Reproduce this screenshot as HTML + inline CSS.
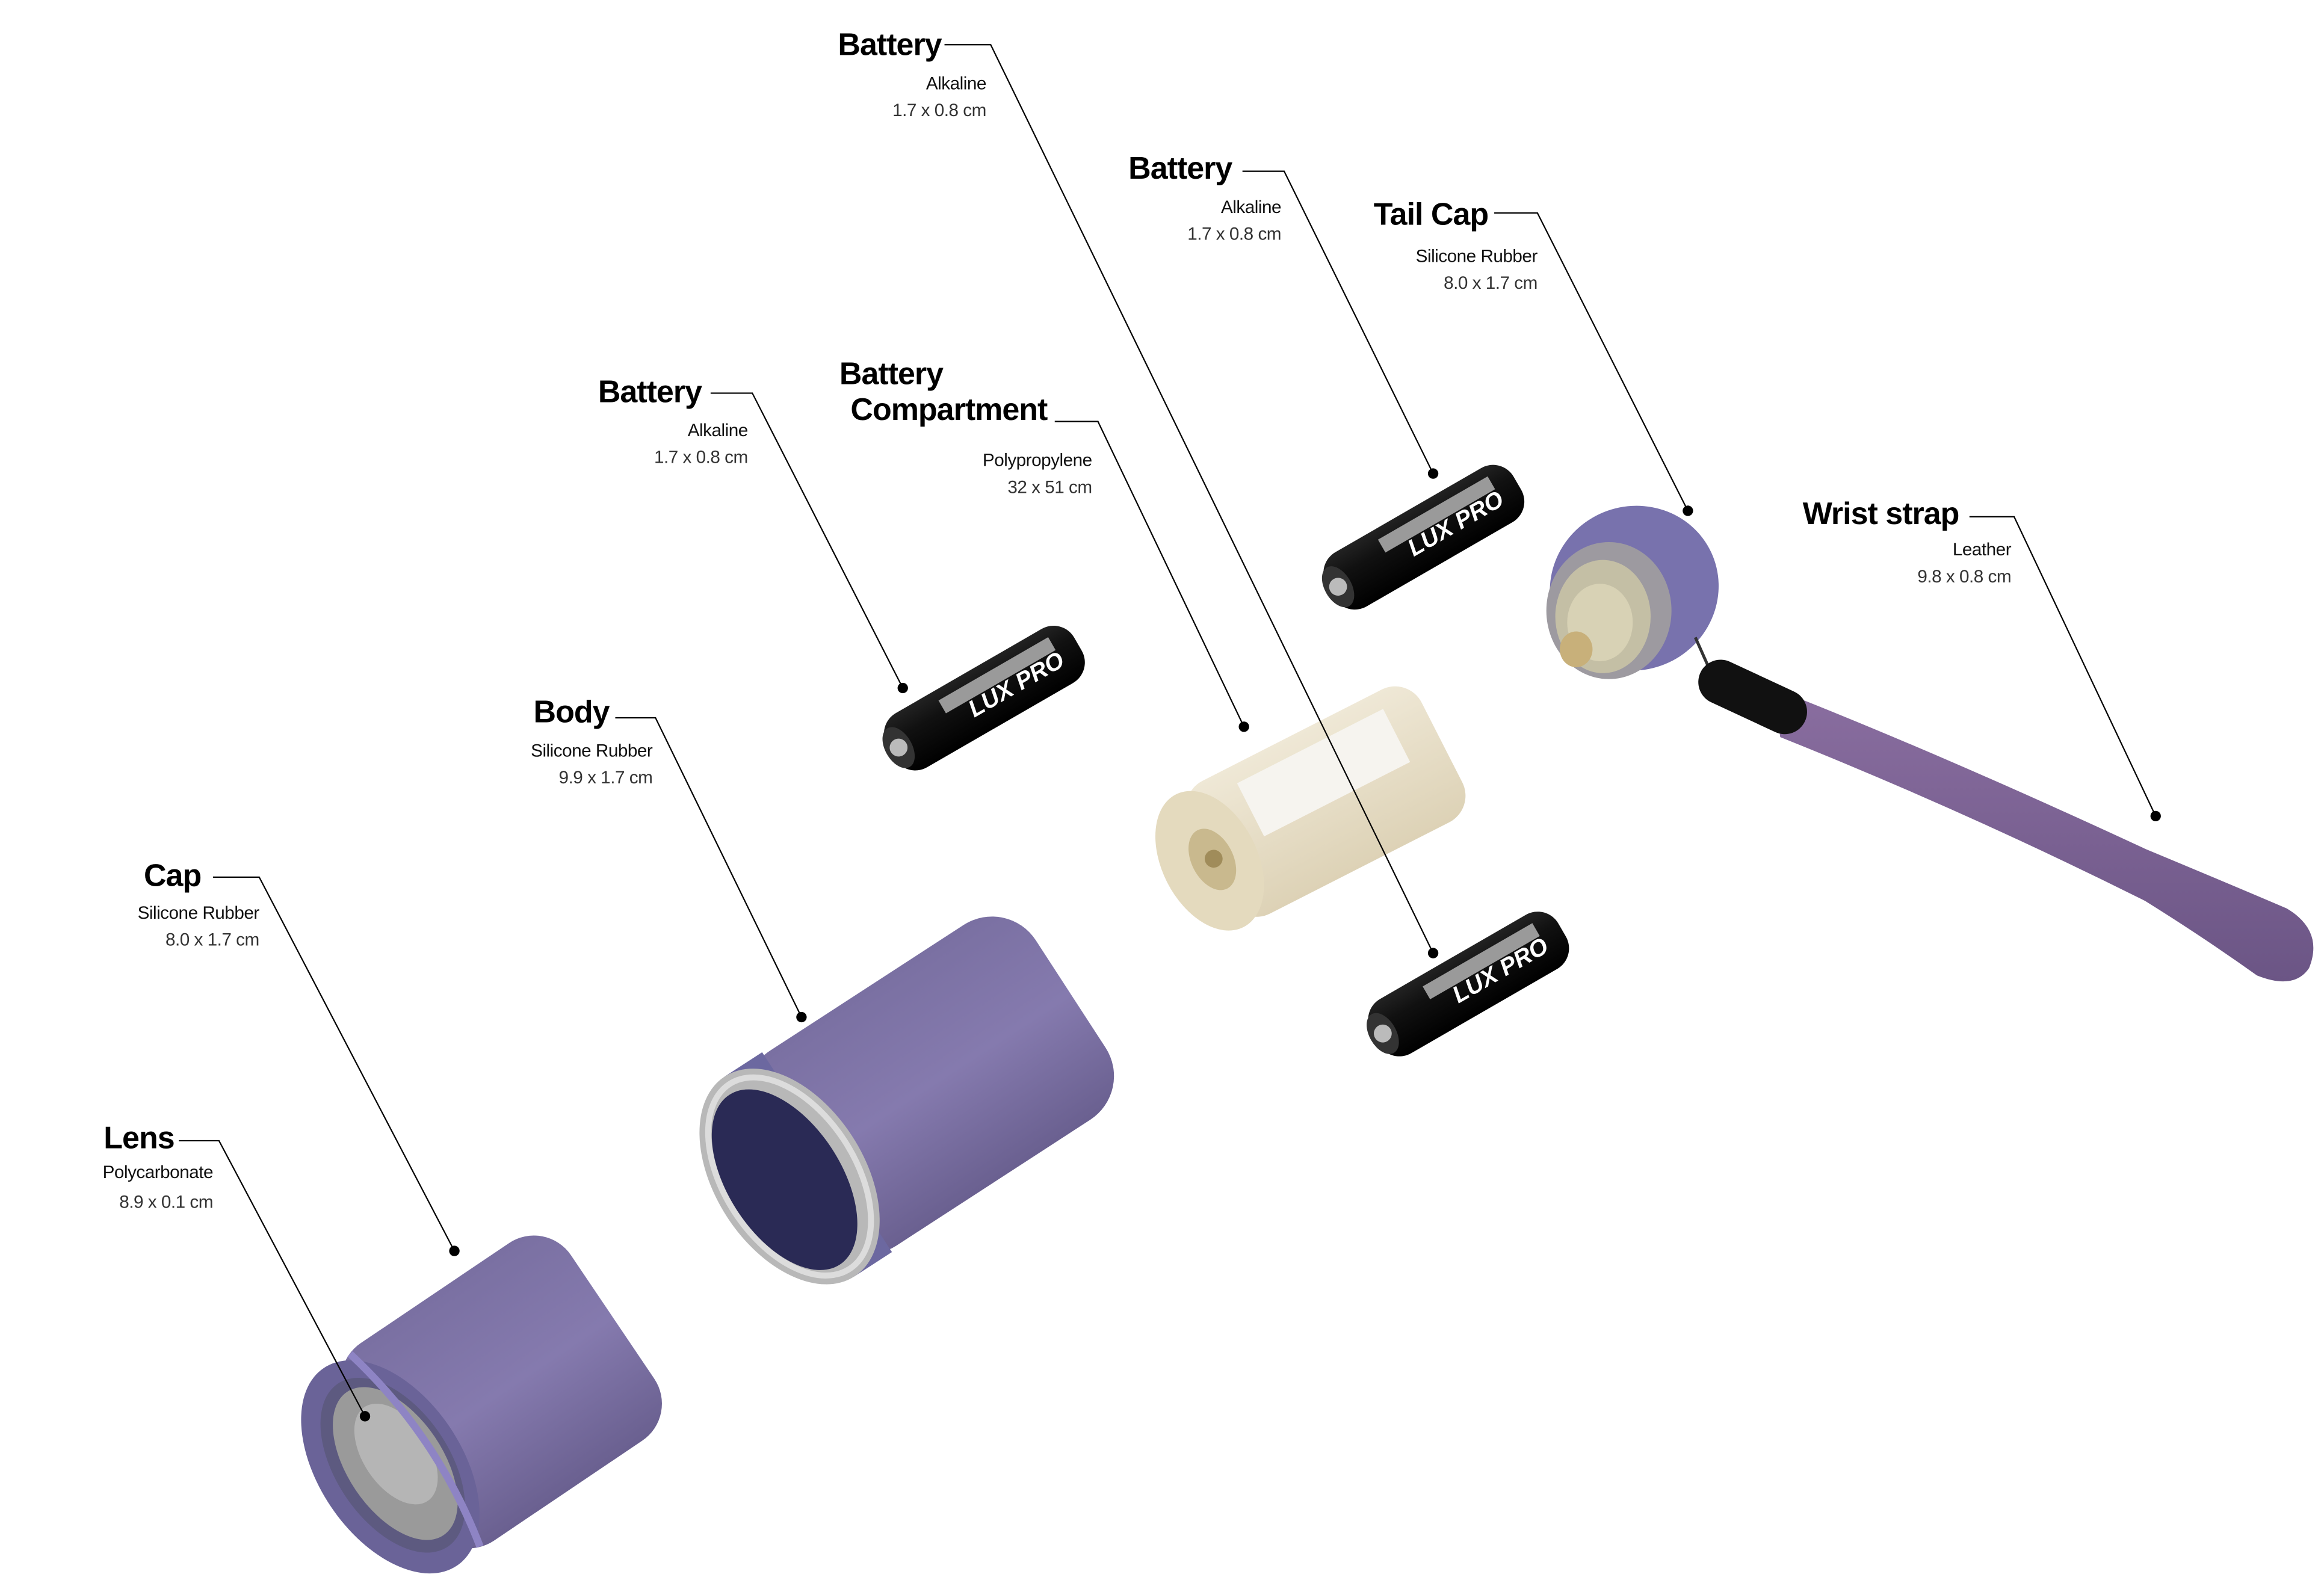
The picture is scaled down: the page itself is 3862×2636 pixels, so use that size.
<!DOCTYPE html>
<html><head><meta charset="utf-8"><style>
html,body{margin:0;padding:0;background:#fff;}
svg{display:block;}
.t{font-family:"Liberation Sans",sans-serif;font-weight:bold;font-size:21px;letter-spacing:-0.4px;fill:#000;text-anchor:end;}
.s{font-family:"Liberation Sans",sans-serif;font-size:12px;letter-spacing:-0.2px;fill:#111;text-anchor:end;}
.d{font-family:"Liberation Sans",sans-serif;font-size:12px;letter-spacing:-0.2px;fill:#333;text-anchor:end;}
.l{fill:none;stroke:#000;stroke-width:0.9;}
</style></head><body>
<svg width="3862" height="2636" viewBox="0 0 1560 1065" preserveAspectRatio="none" xmlns="http://www.w3.org/2000/svg">
<defs>
<linearGradient id="pur" x1="0" y1="0" x2="0" y2="1"><stop offset="0" stop-color="#7a70a2"/><stop offset="0.5" stop-color="#857aae"/><stop offset="1" stop-color="#6a6090"/></linearGradient>
<linearGradient id="bat" x1="0" y1="0" x2="0" y2="1"><stop offset="0" stop-color="#222"/><stop offset="0.35" stop-color="#111"/><stop offset="1" stop-color="#000"/></linearGradient>
<linearGradient id="beige" x1="0" y1="0" x2="0" y2="1"><stop offset="0" stop-color="#efe8d6"/><stop offset="1" stop-color="#ddd2b6"/></linearGradient>
<linearGradient id="strap" x1="0" y1="0" x2="0" y2="1"><stop offset="0" stop-color="#8a6ea0"/><stop offset="1" stop-color="#6b5585"/></linearGradient>
</defs>

<!-- Cap -->
<g transform="translate(262,985) rotate(-34)">
<rect x="0" y="-80" width="180" height="160" rx="30" fill="url(#pur)"/>
<ellipse cx="0" cy="0" rx="48" ry="80" fill="#6a6398"/>
<ellipse cx="2" cy="0" rx="38" ry="66" fill="#5d5a80"/>
<ellipse cx="4" cy="0" rx="32" ry="58" fill="#9a9a9a"/>
<ellipse cx="8" cy="-5" rx="22" ry="38" fill="#b5b5b5"/>
<path d="M20,-78 Q38,0 20,78" stroke="#8e84c4" stroke-width="5" fill="none"/>
</g>

<!-- Body -->
<g transform="translate(530,790) rotate(-33)">
<rect x="0" y="-78" width="225" height="156" rx="35" fill="url(#pur)"/>
<rect x="0" y="-80" width="30" height="160" fill="#6c68a0"/>
<ellipse cx="0" cy="0" rx="50" ry="80" fill="#b8b8b8"/>
<ellipse cx="-4" cy="0" rx="38" ry="68" fill="#2a2a55"/>
<ellipse cx="0" cy="0" rx="44" ry="74" fill="none" stroke="#dcdcdc" stroke-width="4"/>
</g>

<!-- Batteries -->
<g transform="translate(598,505) rotate(-30)">
<rect x="0" y="-21" width="145" height="42" rx="16" fill="url(#bat)"/>
<rect x="45" y="-14" width="85" height="10" fill="#9a9a9a"/>
<text x="60" y="8" font-family="Liberation Sans,sans-serif" font-weight="bold" font-style="italic" font-size="16" fill="#fff">LUX PRO</text>
<ellipse cx="6" cy="0" rx="9" ry="15" fill="#333"/><circle cx="6" cy="0" r="6" fill="#bbb"/>
</g>
<g transform="translate(893,397) rotate(-30)">
<rect x="0" y="-21" width="145" height="42" rx="16" fill="url(#bat)"/>
<rect x="45" y="-14" width="85" height="10" fill="#9a9a9a"/>
<text x="60" y="8" font-family="Liberation Sans,sans-serif" font-weight="bold" font-style="italic" font-size="16" fill="#fff">LUX PRO</text>
<ellipse cx="6" cy="0" rx="9" ry="15" fill="#333"/><circle cx="6" cy="0" r="6" fill="#bbb"/>
</g>
<g transform="translate(923,697) rotate(-30)">
<rect x="0" y="-21" width="145" height="42" rx="16" fill="url(#bat)"/>
<rect x="45" y="-14" width="85" height="10" fill="#9a9a9a"/>
<text x="60" y="8" font-family="Liberation Sans,sans-serif" font-weight="bold" font-style="italic" font-size="16" fill="#fff">LUX PRO</text>
<ellipse cx="6" cy="0" rx="9" ry="15" fill="#333"/><circle cx="6" cy="0" r="6" fill="#bbb"/>
</g>

<!-- Battery compartment -->
<g transform="translate(812,578) rotate(-27)">
<rect x="0" y="-50" width="175" height="100" rx="20" fill="url(#beige)"/>
<rect x="40" y="-38" width="110" height="40" fill="#f6f4ef"/>
<ellipse cx="0" cy="0" rx="32" ry="50" fill="#e4dabe"/>
<ellipse cx="2" cy="0" rx="14" ry="22" fill="#c9b98e"/>
<circle cx="3" cy="0" r="6" fill="#a08c5a"/>
</g>

<!-- Tail cap -->
<g>
<ellipse cx="1097" cy="395" rx="57" ry="55" fill="#7872ad" transform="rotate(-25 1097 395)"/>
<ellipse cx="1080" cy="410" rx="42" ry="46" fill="#9d9aa0"/>
<ellipse cx="1076" cy="414" rx="32" ry="38" fill="#c4bfa5"/>
<ellipse cx="1074" cy="418" rx="22" ry="26" fill="#d8d2b5"/>
<ellipse cx="1058" cy="436" rx="11" ry="12" fill="#c8b07a"/>
</g>

<!-- Wrist strap -->
<path d="M1138,428 L1150,455" stroke="#333" stroke-width="2"/>
<path d="M1190,462 Q1300,505 1440,570 Q1500,595 1535,610 Q1560,625 1550,650 Q1540,665 1515,655 Q1480,630 1440,605 Q1320,545 1195,495 Z" fill="url(#strap)"/>
<path d="M1155,458 L1198,478" stroke="#111" stroke-width="30" stroke-linecap="round"/>

<!-- Leader lines -->
<g class="l">
<polyline points="634,30 665,30 962,640"/>
<polyline points="834,115 862,115 962,318"/>
<polyline points="1003,143 1032,143 1133,343"/>
<polyline points="1322,347 1352,347 1447,548"/>
<polyline points="477,264 505,264 606,462"/>
<polyline points="708,283 737,283 835,488"/>
<polyline points="413,482 440,482 538,683"/>
<polyline points="143,589 174,589 305,840"/>
<polyline points="120,766 147,766 245,951"/>
</g>
<g fill="#000">
<circle cx="962" cy="640" r="3.5"/><circle cx="962" cy="318" r="3.5"/><circle cx="1133" cy="343" r="3.5"/>
<circle cx="1447" cy="548" r="3.5"/><circle cx="606" cy="462" r="3.5"/><circle cx="835" cy="488" r="3.5"/>
<circle cx="538" cy="683" r="3.5"/><circle cx="305" cy="840" r="3.5"/><circle cx="245" cy="951" r="3.5"/>
</g>

<!-- Labels -->
<text class="t" x="632" y="37">Battery</text>
<text class="s" x="662" y="60">Alkaline</text>
<text class="d" x="662" y="78">1.7 x 0.8 cm</text>

<text class="t" x="827" y="120">Battery</text>
<text class="s" x="860" y="143">Alkaline</text>
<text class="d" x="860" y="161">1.7 x 0.8 cm</text>

<text class="t" x="999" y="151">Tail Cap</text>
<text class="s" x="1032" y="176">Silicone Rubber</text>
<text class="d" x="1032" y="194">8.0 x 1.7 cm</text>

<text class="t" x="1315" y="352">Wrist strap</text>
<text class="s" x="1350" y="373">Leather</text>
<text class="d" x="1350" y="391">9.8 x 0.8 cm</text>

<text class="t" x="471" y="270">Battery</text>
<text class="s" x="502" y="293">Alkaline</text>
<text class="d" x="502" y="311">1.7 x 0.8 cm</text>

<text class="t" x="633" y="258">Battery</text>
<text class="t" x="703" y="282">Compartment</text>
<text class="s" x="733" y="313">Polypropylene</text>
<text class="d" x="733" y="331">32 x 51 cm</text>

<text class="t" x="409" y="485">Body</text>
<text class="s" x="438" y="508">Silicone Rubber</text>
<text class="d" x="438" y="526">9.9 x 1.7 cm</text>

<text class="t" x="135" y="595">Cap</text>
<text class="s" x="174" y="617">Silicone Rubber</text>
<text class="d" x="174" y="635">8.0 x 1.7 cm</text>

<text class="t" x="117" y="771">Lens</text>
<text class="s" x="143" y="791">Polycarbonate</text>
<text class="d" x="143" y="811">8.9 x 0.1 cm</text>
</svg>
</body></html>
